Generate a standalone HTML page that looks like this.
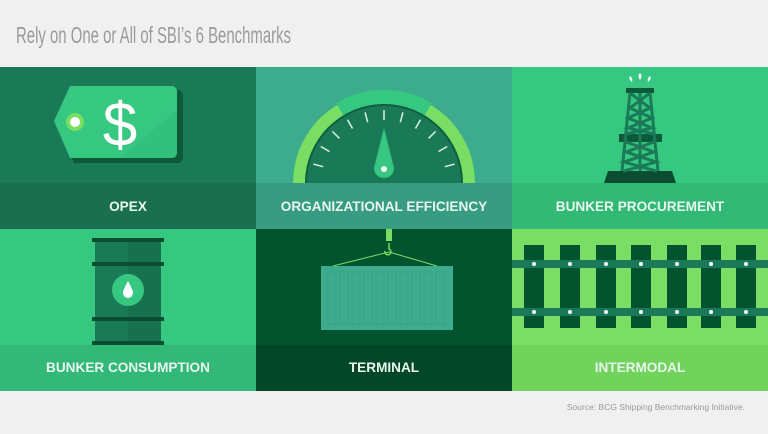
<!DOCTYPE html>
<html><head><meta charset="utf-8"><style>
html,body{margin:0;padding:0;background:#f0f0f0;}
svg{display:block;}
text{font-family:"Liberation Sans",sans-serif;}
</style></head><body>
<svg width="768" height="434" viewBox="0 0 768 434" xmlns="http://www.w3.org/2000/svg">
<rect width="768" height="434" fill="#f0f0f0"/>
<text x="16" y="43" font-size="23" fill="#9a9a9a" textLength="275" lengthAdjust="spacingAndGlyphs">Rely on One or All of SBI’s 6 Benchmarks</text>

<rect x="0" y="67" width="256" height="162" fill="#1a7a58"/>
<rect x="0" y="183" width="256" height="46" fill="#1b6f51"/>
<rect x="256" y="67" width="256" height="162" fill="#3dab8e"/>
<rect x="256" y="183" width="256" height="46" fill="#389c82"/>
<rect x="512" y="67" width="256" height="162" fill="#36c781"/>
<rect x="512" y="183" width="256" height="46" fill="#32b976"/>
<rect x="0" y="229" width="256" height="162" fill="#36c781"/>
<rect x="0" y="345" width="256" height="46" fill="#32b877"/>
<rect x="256" y="229" width="256" height="162" fill="#04532f"/>
<rect x="256" y="345" width="256" height="46" fill="#034628"/>
<rect x="512" y="229" width="256" height="162" fill="#7ade64"/>
<rect x="512" y="345" width="256" height="46" fill="#71d25c"/>

<g font-size="13.6" font-weight="bold" fill="#e8f5ee" text-anchor="middle">
<text x="128" y="211">OPEX</text>
<text x="384" y="211">ORGANIZATIONAL EFFICIENCY</text>
<text x="640" y="211">BUNKER PROCUREMENT</text>
<text x="128" y="372">BUNKER CONSUMPTION</text>
<text x="384" y="372">TERMINAL</text>
<text x="640" y="372">INTERMODAL</text>
</g>

<path d="M74 90 H178 a5 5 0 0 1 5 5 V158 a5 5 0 0 1 -5 5 H74 L58 131 Z" fill="#0d5a3a"/>
<path d="M70 86 H172 a5 5 0 0 1 5 5 V153 a5 5 0 0 1 -5 5 H70 L54 121 Z" fill="#36c781"/>
<path d="M70 158 L120 158 L177 110 V153 a5 5 0 0 1 -5 5Z" fill="#31bb79" opacity="0.6"/>
<circle cx="75" cy="122" r="9" fill="#7ade64"/>
<circle cx="75" cy="122" r="5" fill="#fff"/>
<text x="120" y="146" font-size="62" fill="#fff" text-anchor="middle">$</text>

<clipPath id="gc"><rect x="256" y="67" width="256" height="116"/></clipPath>
<g clip-path="url(#gc)">
<circle cx="384" cy="183" r="91" fill="#7ade64"/>
<path d="M384 183 L 336 103 A 93 93 0 0 1 432 103Z" fill="#36c781"/>
<circle cx="384" cy="183" r="79" fill="#0f5e3f"/>
<circle cx="384" cy="183" r="77" fill="#1a7a58"/>
<g stroke="#d9f0e4" stroke-width="1.5">
<line x1="384" y1="110" x2="384" y2="120" />
<line x1="384" y1="110" x2="384" y2="120" transform="rotate(15 384 183)"/>
<line x1="384" y1="110" x2="384" y2="120" transform="rotate(30 384 183)"/>
<line x1="384" y1="110" x2="384" y2="120" transform="rotate(45 384 183)"/>
<line x1="384" y1="110" x2="384" y2="120" transform="rotate(60 384 183)"/>
<line x1="384" y1="110" x2="384" y2="120" transform="rotate(75 384 183)"/>
<line x1="384" y1="110" x2="384" y2="120" transform="rotate(-15 384 183)"/>
<line x1="384" y1="110" x2="384" y2="120" transform="rotate(-30 384 183)"/>
<line x1="384" y1="110" x2="384" y2="120" transform="rotate(-45 384 183)"/>
<line x1="384" y1="110" x2="384" y2="120" transform="rotate(-60 384 183)"/>
<line x1="384" y1="110" x2="384" y2="120" transform="rotate(-75 384 183)"/>
</g>
<path d="M384 128 L394 168 A10 10 0 1 1 374 168 Z" fill="#36c781"/>
<circle cx="384" cy="169" r="3" fill="#fff"/>
</g>

<g fill="#0d5a3a">
<path d="M632 82 q-4 -3 -2 -6 q3 2 2 6Z M640 80 q-3 -4 0 -7 q3 3 0 7Z M648 82 q4 -3 2 -6 q-3 2 -2 6Z" fill="#fff"/>
<rect x="626" y="88" width="28" height="5"/>
<rect x="619" y="134" width="43" height="8"/>
<path d="M604 183 L608 171 H672 L676 183Z" fill="#0a4d30"/>
<g stroke="#1a7a58" stroke-width="3" fill="none">
<line x1="630" y1="93" x2="622" y2="171"/>
<line x1="650" y1="93" x2="658" y2="171"/>
<path d="M630 93 L650 108 L628 118 L652 128 L626 134 M650 93 L630 108 L652 118 L628 128 L654 134"/>
<path d="M626 142 L654 152 L624 162 L656 171 M654 142 L626 152 L656 162 L624 171"/>
<line x1="640" y1="93" x2="640" y2="171"/>
</g>
</g>

<rect x="95" y="238" width="66" height="107" fill="#1a7a58"/>
<rect x="128" y="238" width="33" height="107" fill="#17714f"/>
<g fill="#0a4d30">
<rect x="92" y="238" width="72" height="4"/>
<rect x="92" y="262" width="72" height="4"/>
<rect x="92" y="317" width="72" height="4"/>
<rect x="92" y="341" width="72" height="4"/>
</g>
<circle cx="128" cy="290" r="16" fill="#36c781"/>
<path d="M128 281 C125 287 123 290 123 293 A5 5 0 0 0 133 293 C133 290 131 287 128 281Z" fill="#fff"/>

<rect x="386" y="229" width="6" height="12" fill="#7ade64"/>
<path d="M389 243 v6 a3 3 0 1 1 -4 2" stroke="#7ade64" stroke-width="1.5" fill="none"/>
<line x1="389" y1="252" x2="333" y2="266" stroke="#7ade64" stroke-width="1"/>
<line x1="389" y1="252" x2="437" y2="266" stroke="#7ade64" stroke-width="1"/>
<rect x="321" y="266" width="132" height="64" fill="#3dab8e"/>
<g stroke="#36a083" stroke-width="1" fill="none">
<rect x="328" y="272" width="8" height="52"/><rect x="340" y="272" width="8" height="52"/>
<rect x="352" y="272" width="8" height="52"/><rect x="364" y="272" width="8" height="52"/>
<rect x="376" y="272" width="8" height="52"/><rect x="388" y="272" width="8" height="52"/>
<rect x="400" y="272" width="8" height="52"/><rect x="412" y="272" width="8" height="52"/>
<rect x="424" y="272" width="8" height="52"/><rect x="436" y="272" width="8" height="52"/>
</g>

<g fill="#04532f">
<rect x="524" y="245" width="20" height="83"/><rect x="560" y="245" width="20" height="83"/>
<rect x="596" y="245" width="20" height="83"/><rect x="631" y="245" width="20" height="83"/>
<rect x="667" y="245" width="20" height="83"/><rect x="701" y="245" width="20" height="83"/>
<rect x="736" y="245" width="20" height="83"/>
</g>
<rect x="512" y="260" width="256" height="8" fill="#1a7a58"/>
<rect x="512" y="308" width="256" height="8" fill="#1a7a58"/>
<g fill="#fff">
<circle cx="534" cy="264" r="2"/><circle cx="570" cy="264" r="2"/><circle cx="606" cy="264" r="2"/><circle cx="641" cy="264" r="2"/><circle cx="677" cy="264" r="2"/><circle cx="711" cy="264" r="2"/><circle cx="746" cy="264" r="2"/>
<circle cx="534" cy="312" r="2"/><circle cx="570" cy="312" r="2"/><circle cx="606" cy="312" r="2"/><circle cx="641" cy="312" r="2"/><circle cx="677" cy="312" r="2"/><circle cx="711" cy="312" r="2"/><circle cx="746" cy="312" r="2"/>
</g>

<text x="745" y="410" font-size="8.5" fill="#999" text-anchor="end">Source: BCG Shipping Benchmarking Initiative.</text>
</svg>
</body></html>
